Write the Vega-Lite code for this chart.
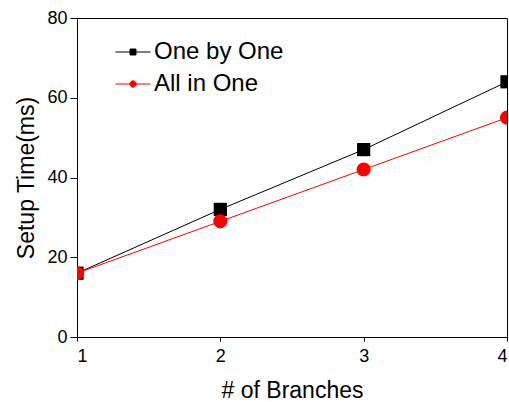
{
  "$schema": "https://vega.github.io/schema/vega-lite/v6.json",
  "width": 430,
  "height": 319,
  "padding": {"left": 15, "top": 9, "right": 0, "bottom": 4},
  "config": {
    "view": {"stroke": "black", "strokeWidth": 1},
    "font": "Liberation Sans",
    "axis": {
      "domainColor": "black",
      "tickColor": "black",
      "grid": false,
      "labelColor": "black",
      "titleColor": "black",
      "labelFont": "Liberation Sans",
      "titleFont": "Liberation Sans",
      "labelFontSize": 18,
      "titleFontSize": 23,
      "titleFontWeight": "normal"
    }
  },
  "data": {
    "values": [
      {"branches": 1, "series": "One by One", "time": 16},
      {"branches": 2, "series": "One by One", "time": 32},
      {"branches": 3, "series": "One by One", "time": 47},
      {"branches": 4, "series": "One by One", "time": 64},
      {"branches": 1, "series": "All in One", "time": 16},
      {"branches": 2, "series": "All in One", "time": 29},
      {"branches": 3, "series": "All in One", "time": 42},
      {"branches": 4, "series": "All in One", "time": 55}
    ]
  },
  "layer": [
    {
      "mark": {"type": "line", "strokeWidth": 1, "clip": true},
      "encoding": {
        "x": {
          "field": "branches", "type": "quantitative",
          "scale": {"domain": [1, 4], "nice": false, "zero": false},
          "axis": {"title": "# of Branches", "values": [1, 2, 3, 4], "tickSize": 4, "labelPadding": 6, "titlePadding": 14, "format": "d"}
        },
        "y": {
          "field": "time", "type": "quantitative",
          "scale": {"domain": [0, 80], "nice": false},
          "axis": {
            "title": "Setup Time(ms)",
            "values": [0, 10, 20, 30, 40, 50, 60, 70, 80],
            "labelExpr": "datum.value % 20 === 0 ? datum.label : ''",
            "tickSize": 7, "labelPadding": 3, "titlePadding": 8,
            "encode": {"ticks": {"update": {"x2": {"signal": "datum.value % 20 === 0 ? -7 : -4"}}}}
          }
        },
        "color": {
          "field": "series", "type": "nominal",
          "scale": {"domain": ["One by One", "All in One"], "range": ["#000000", "#ff0000"]},
          "legend": {
            "title": null,
            "orient": "none",
            "legendX": 38,
            "legendY": 16,
            "labelFontSize": 24,
            "labelFont": "Liberation Sans",
            "labelColor": "black",
            "symbolSize": 1225,
            "symbolStrokeWidth": 1,
            "labelOffset": 3,
            "rowPadding": 2,
            "encode": {
              "symbols": {
                "update": {
                  "shape": {"signal": "datum.value === 'One by One' ? 'M-1,0H1M-0.17,-0.17H0.17V0.17H-0.17Z' : 'M-1,0H1M0.18,0A0.18,0.18,0,1,1,-0.18,0A0.18,0.18,0,1,1,0.18,0Z'"},
                  "fill": {"signal": "datum.value === 'One by One' ? '#000000' : '#ff0000'"},
                  "stroke": {"signal": "datum.value === 'One by One' ? '#000000' : '#ff0000'"},
                  "fillOpacity": {"value": 1},
                  "strokeWidth": {"value": 1}
                }
              }
            }
          }
        }
      }
    },
    {
      "transform": [{"filter": "datum.series === 'One by One'"}],
      "mark": {"type": "point", "shape": "square", "size": 175, "filled": true, "opacity": 1, "clip": true},
      "encoding": {
        "x": {"field": "branches", "type": "quantitative"},
        "y": {"field": "time", "type": "quantitative"},
        "color": {"field": "series", "type": "nominal", "legend": null}
      }
    },
    {
      "transform": [{"filter": "datum.series === 'All in One'"}],
      "mark": {"type": "point", "shape": "circle", "size": 200, "filled": true, "opacity": 1, "clip": true},
      "encoding": {
        "x": {"field": "branches", "type": "quantitative"},
        "y": {"field": "time", "type": "quantitative"},
        "color": {"field": "series", "type": "nominal", "legend": null}
      }
    }
  ]
}
